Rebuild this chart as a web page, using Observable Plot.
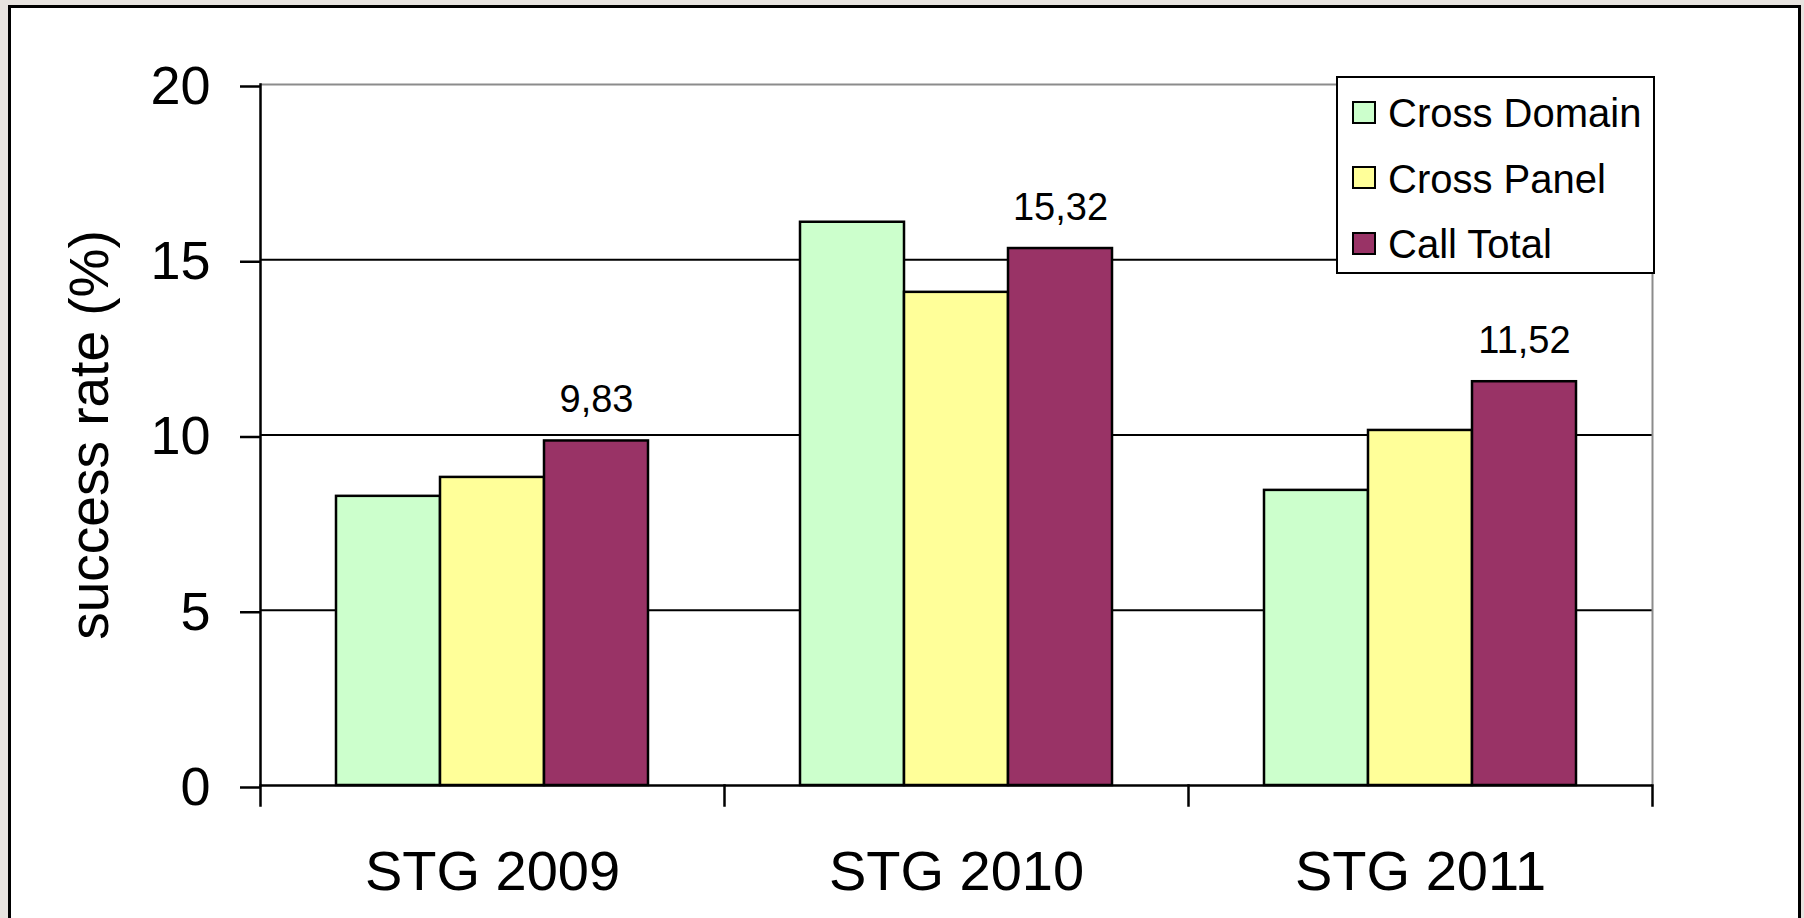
<!DOCTYPE html>
<html>
<head>
<meta charset="utf-8">
<script src="https://cdn.jsdelivr.net/npm/d3@7"></script>
<script src="https://cdn.jsdelivr.net/npm/@observablehq/plot@0.6"></script>
<style>
  html, body { margin: 0; padding: 0; width: 1804px; height: 918px; overflow: hidden; background: #e7e3df; }
  #border { position: absolute; left: 8px; top: 5px; width: 1787px; height: 1000px; border: 3px solid #000; background: #fff; }
  #chart { position: absolute; left: 0; top: 0; }
  #legend { position: absolute; left: 1336px; top: 76px; width: 315px; height: 194px; border: 2px solid #000; background: #fff;
            font-family: "Liberation Sans", Arial, sans-serif; font-size: 40px; color: #000; }
  .row { position: absolute; left: 0; height: 40px; line-height: 40px; white-space: nowrap; }
  .sw { position: absolute; left: 14px; width: 20px; height: 19px; border: 2px solid #000; }
  .lab { position: absolute; left: 50px; top: 0; }
</style>
</head>
<body>
<div id="border"></div>
<div id="chart"></div>
<div id="legend"></div>
<script>
const groups = ["STG 2009", "STG 2010", "STG 2011"];
const series = ["Cross Domain", "Cross Panel", "Call Total"];
const crossDomain = [8.25, 16.07, 8.42];
const crossPanel = [8.79, 14.07, 10.13];
const callTotal = [9.83, 15.32, 11.52];
const colors = ["#CCFFCC", "#FFFF99", "#993366"];
const yTicks = [0, 5, 10, 15, 20];
const yLabel = "success rate (%)";
const labeledSeries = "Call Total";

const valuesBySeries = [crossDomain, crossPanel, callTotal];
const data = [];
groups.forEach((g, gi) => {
  series.forEach((s, si) => data.push({group: g, series: s, value: valuesBySeries[si][gi]}));
});
const commaFmt = d3.formatLocale({decimal: ",", thousands: ".", grouping: [3], currency: ["", ""]}).format(".2f");

const plot = Plot.plot({
  width: 1804,
  height: 918,
  marginLeft: 260,
  marginRight: 152,
  marginTop: 84,
  marginBottom: 133,
  style: {fontFamily: "'Liberation Sans', Arial, sans-serif", background: "transparent", color: "#000"},
  fx: {domain: groups, padding: 0},
  x: {domain: series, paddingInner: 0, paddingOuter: 0.73, axis: null},
  y: {domain: [0, 20]},
  color: {domain: series, range: colors},
  marks: [
    Plot.ruleY(yTicks.filter(t => t > 0 && t < 20), {stroke: "#000", strokeWidth: 2}),
    Plot.ruleY([20], {stroke: "#8c8c8c", strokeWidth: 2}),
    Plot.frame({anchor: "right", facetAnchor: "right", stroke: "#8c8c8c", strokeWidth: 2}),
    Plot.barY(data, {fx: "group", x: "series", y: "value", fill: "series", stroke: "#000", strokeWidth: 2.5}),
    Plot.ruleY([0], {stroke: "#000", strokeWidth: 2.5}),
    Plot.frame({anchor: "left", facetAnchor: "left", stroke: "#000", strokeWidth: 2.5}),
    Plot.frame({anchor: "left", stroke: "#000", strokeWidth: 2.5, insetTop: 701, insetBottom: -20}),
    Plot.frame({anchor: "right", facetAnchor: "right", stroke: "#000", strokeWidth: 2.5, insetTop: 701, insetBottom: -20}),
    Plot.axisY({ticks: yTicks, tickSize: 20, tickPadding: 30, fontSize: 54, label: null, strokeWidth: 2.5, dy: 2}),
    Plot.axisFx({anchor: "bottom", tickSize: 0, tickPadding: 65, fontSize: 56, label: null}),
    Plot.text([yLabel], {text: d => d, frameAnchor: "left", facetAnchor: "left", textAnchor: "middle", rotate: -90, dx: -170, fontSize: 55}),
    Plot.text(data.filter(d => d.series === labeledSeries), {fx: "group", x: "series", y: "value", text: d => commaFmt(d.value), dy: -41, fontSize: 38})
  ]
});
document.getElementById("chart").appendChild(plot);

const legend = document.getElementById("legend");
const rowTops = [15, 81, 146];
const swTops = [23, 88, 154];
series.forEach((s, i) => {
  const sw = document.createElement("div");
  sw.className = "sw";
  sw.style.top = swTops[i] + "px";
  sw.style.background = colors[i];
  legend.appendChild(sw);
  const row = document.createElement("div");
  row.className = "row";
  row.style.top = rowTops[i] + "px";
  const lab = document.createElement("span");
  lab.className = "lab";
  lab.textContent = s;
  row.appendChild(lab);
  legend.appendChild(row);
});
</script>
</body>
</html>
